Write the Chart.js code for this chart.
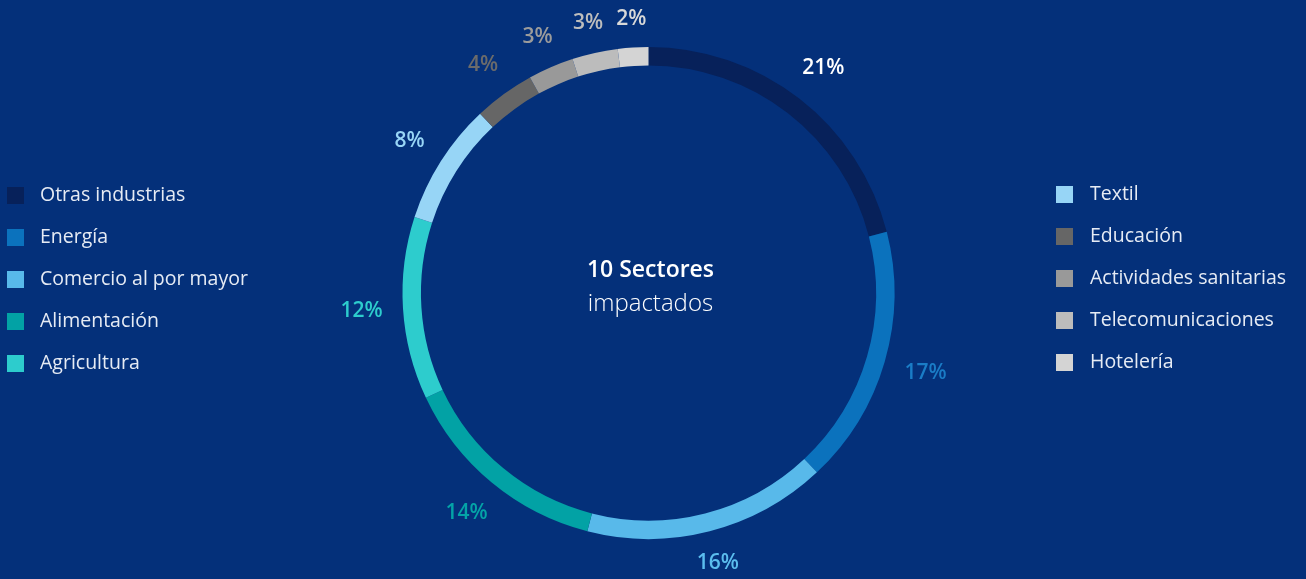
<!DOCTYPE html>
<html>
<head>
<meta charset="utf-8">
<script src="https://cdn.jsdelivr.net/npm/chart.js@4.4.1/dist/chart.umd.min.js"></script>
<style>
  html, body { margin: 0; padding: 0; background: #04307a; }
  #wrap { position: relative; width: 1306px; height: 579px; overflow: hidden; }
  #donut { position: absolute; left: 0; top: 0; }
  .legend { position: absolute; font-family: "Open Sans", sans-serif; font-weight: 400; font-size: 19.5px; color: #e6ebf4; }
  .legend .row { position: absolute; white-space: nowrap; height: 20px; line-height: 20px; }
  .legend .sw { position: absolute; left: 0; top: 1px; width: 17px; height: 17px; }
  .legend .tx { position: absolute; top: -2px; }
</style>
</head>
<body>
<div id="wrap">
  <canvas id="donut" width="1306" height="579"></canvas>
  <div class="legend" id="legendLeft" style="left:7px; top:186px;"></div>
  <div class="legend" id="legendRight" style="left:1056px; top:185px;"></div>
</div>
<script>
// sectors, clockwise from 12 o'clock
var sectors = ["Otras industrias", "Energía", "Comercio al por mayor", "Alimentación", "Agricultura",
               "Textil", "Educación", "Actividades sanitarias", "Telecomunicaciones", "Hotelería"];
var shares = [21, 17, 16, 14, 12, 8, 4, 3, 3, 2];
var sliceColors = ["#07215a", "#0b72bd", "#58b9ea", "#02a2a5", "#2dcccd",
                   "#97d5f6", "#666666", "#999999", "#bcbcbc", "#d4d4d4"];
var labelColors = ["#ffffff", "#1a7cc6", "#5bbdee", "#04a3a7", "#2dcccd",
                   "#98d5f6", "#6b6b6b", "#9b9b9b", "#bdbdbd", "#d8d8d8"];
var centerTitle = "10 Sectores";
var centerSub = "impactados";

// legends: first five on the left, the rest on the right
function buildLegend(el, from, to) {
    for (let i = from; i < to; i++) {
        let row = document.createElement("div");
        row.className = "row";
        row.style.top = ((i - from) * 42) + "px";
        row.innerHTML = '<span class="sw" style="background:' + sliceColors[i] + '"></span>' +
                        '<span class="tx" style="left:' + (el.id == "legendLeft" ? 33 : 34) + 'px">' + sectors[i] + '</span>';
        el.appendChild(row);
    }
}
buildLegend(document.getElementById("legendLeft"), 0, 5);
buildLegend(document.getElementById("legendRight"), 5, 10);

// percentage labels outside the ring + centre text
var ringLabels = {
    id: "ringLabels",
    afterDatasetsDraw(chart) {
        let ctx = chart.ctx;
        let meta = chart.getDatasetMeta(0);
        ctx.save();
        ctx.textAlign = "center";
        ctx.textBaseline = "middle";
        ctx.font = "600 21px 'Open Sans', sans-serif";
        meta.data.forEach((arc, i) => {
            let p = arc.getProps(["x", "y", "startAngle", "endAngle", "outerRadius"], true);
            let mid = (p.startAngle + p.endAngle) / 2;
            let txt = shares[i] + "%";
            let hw = ctx.measureText(txt).width / 2, hh = 8;
            // keep the text box a fixed gap away from the ring
            let r = p.outerRadius + 20 + Math.abs(Math.cos(mid)) * hw + Math.abs(Math.sin(mid)) * hh;
            ctx.fillStyle = labelColors[i];
            ctx.fillText(txt, p.x + Math.cos(mid) * r, p.y + Math.sin(mid) * r);
        });
        let cx = meta.data[0].x, cy = meta.data[0].y;
        ctx.fillStyle = "#ffffff";
        ctx.font = "600 23px 'Open Sans', sans-serif";
        ctx.fillText(centerTitle, cx + 2, cy - 23);
        ctx.font = "300 24px 'Open Sans', sans-serif";
        ctx.fillText(centerSub, cx + 2, cy + 11);
        ctx.restore();
    }
};

new Chart(document.getElementById("donut"), {
    type: "doughnut",
    data: {
        labels: sectors,
        datasets: [{
            data: shares,
            backgroundColor: sliceColors,
            borderWidth: 0
        }]
    },
    options: {
        responsive: false,
        animation: false,
        cutout: "92.5%",
        layout: { padding: { top: 47, bottom: 40, left: 0, right: 9 } },
        plugins: {
            legend: { display: false },
            tooltip: { enabled: false }
        }
    },
    plugins: [ringLabels]
});
</script>
</body>
</html>
